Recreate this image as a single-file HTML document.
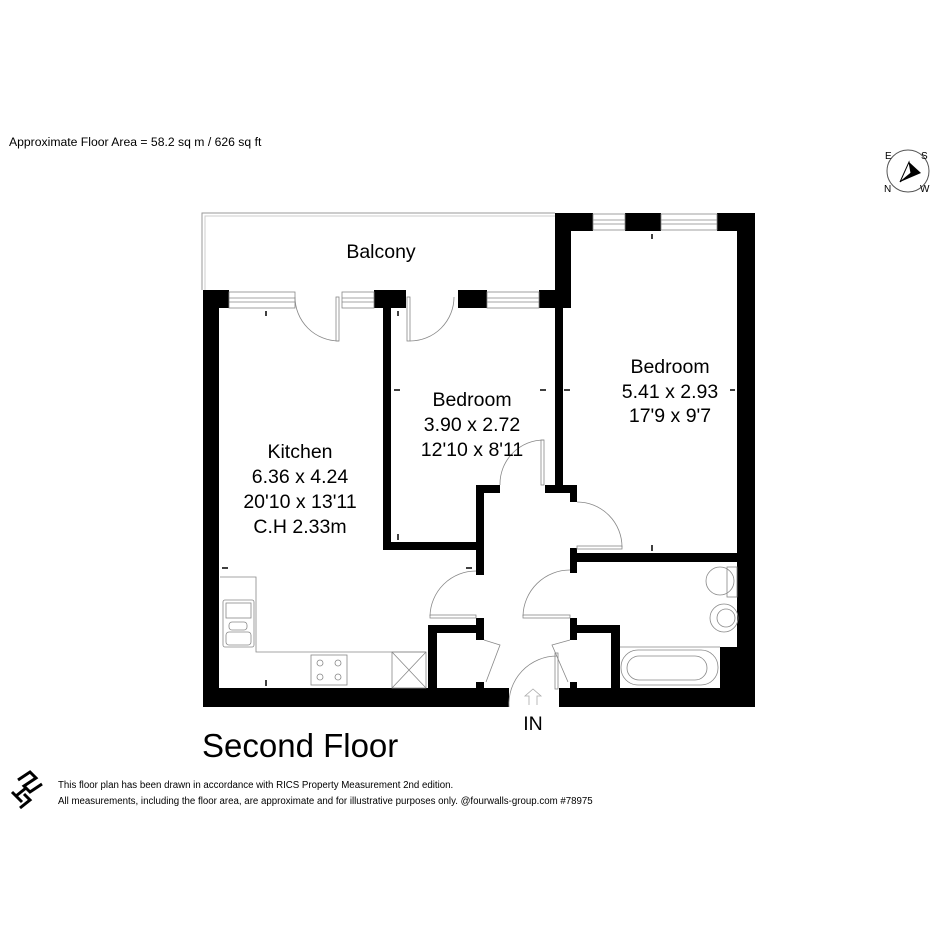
<!DOCTYPE html>
<html><head><meta charset="utf-8"><style>
html,body{margin:0;padding:0;background:#fff;}
svg{display:block;font-family:"Liberation Sans",Arial,sans-serif;}
</style></head><body>
<svg width="945" height="945" viewBox="0 0 945 945" xmlns="http://www.w3.org/2000/svg">
<rect width="945" height="945" fill="#fff"/>
<text x="9" y="146" font-size="12.2">Approximate Floor Area = 58.2 sq m / 626 sq ft</text>
<!-- compass -->
<circle cx="908" cy="171" r="21" fill="none" stroke="#555" stroke-width="1"/>
<text x="885" y="159" font-size="10">E</text>
<text x="921" y="159" font-size="10">S</text>
<text x="884" y="192" font-size="10">N</text>
<text x="920" y="192" font-size="10">W</text>
<path d="M900 182 L909 162 L921 173 Z" fill="#000"/>
<path d="M900 182 L909 162 L911 173 Z" fill="#fff" stroke="#000" stroke-width="1"/>
<!-- balcony -->
<path d="M202 290 V213 H555" fill="none" stroke="#999" stroke-width="1"/>
<path d="M205 290 V216 H555" fill="none" stroke="#ccc" stroke-width="1"/>
<g fill="#000">
<rect x="203" y="290" width="16" height="417"/>
<rect x="203" y="290" width="26" height="18"/>
<rect x="203" y="688" width="306" height="19"/>
<rect x="559" y="688" width="196" height="19"/>
<rect x="737" y="213" width="18" height="494"/>
<rect x="720" y="647" width="35" height="60"/>
<rect x="555" y="213" width="38" height="18"/>
<rect x="625" y="213" width="36" height="18"/>
<rect x="717" y="213" width="38" height="18"/>
<rect x="555" y="213" width="16" height="95"/>
<rect x="539" y="290" width="32" height="18"/>
<rect x="458" y="290" width="29" height="18"/>
<rect x="374" y="290" width="32" height="18"/>
<rect x="383" y="308" width="8" height="242"/>
<rect x="383" y="542" width="101" height="8"/>
<rect x="476" y="485" width="8" height="90"/>
<rect x="476" y="485" width="24" height="8"/>
<rect x="555" y="308" width="8" height="185"/>
<rect x="545" y="485" width="32" height="8"/>
<rect x="570" y="485" width="7" height="17"/>
<rect x="570" y="548" width="7" height="25"/>
<rect x="570" y="553" width="167" height="9"/>
<rect x="476" y="618" width="8" height="22"/>
<rect x="428" y="625" width="56" height="8"/>
<rect x="428" y="625" width="9" height="63"/>
<rect x="476" y="682" width="8" height="6"/>
<rect x="570" y="618" width="7" height="22"/>
<rect x="570" y="625" width="50" height="8"/>
<rect x="611" y="625" width="9" height="63"/>
<rect x="570" y="682" width="7" height="6"/>
</g>
<g fill="none" stroke="#888" stroke-width="0.8">
<rect x="229" y="292" width="66" height="16"/><line x1="229" y1="298" x2="295" y2="298"/><line x1="229" y1="302" x2="295" y2="302"/>
<rect x="342" y="292" width="32" height="16"/><line x1="342" y1="298" x2="374" y2="298"/><line x1="342" y1="302" x2="374" y2="302"/>
<rect x="487" y="292" width="52" height="16"/><line x1="487" y1="298" x2="539" y2="298"/><line x1="487" y1="302" x2="539" y2="302"/>
<rect x="593" y="214" width="32" height="16"/><line x1="593" y1="220" x2="625" y2="220"/><line x1="593" y1="224" x2="625" y2="224"/>
<rect x="661" y="214" width="56" height="16"/><line x1="661" y1="220" x2="717" y2="220"/><line x1="661" y1="224" x2="717" y2="224"/>
<rect x="336" y="297" width="3" height="44"/><path d="M295 297 A44 44 0 0 0 339 341"/>
<rect x="407" y="297" width="3" height="44"/><path d="M454 297 A44 44 0 0 1 410 341"/>
<rect x="541" y="440" width="3" height="45"/><path d="M500 485 A44 44 0 0 1 544 440"/>
<rect x="577" y="546" width="45" height="3"/><path d="M577 502 A45 45 0 0 1 622 547"/>
<rect x="430" y="615" width="46" height="3"/><path d="M476 571 A46 46 0 0 0 430 616"/>
<rect x="523" y="615" width="47" height="3"/><path d="M570 570 A47 47 0 0 0 523 616"/>
<rect x="555" y="653" width="3" height="36"/><path d="M509 707 A48 48 0 0 1 557 656"/>
<path d="M484 640 L500 645 L486 682"/>
<path d="M570 640 L552 645 L568 682"/>
<path d="M220 577 H256 V652 H426"/>
<rect x="223" y="600" width="31" height="47" rx="2"/>
<rect x="226" y="603" width="25" height="15"/>
<rect x="229" y="622" width="18" height="8" rx="3"/>
<rect x="226" y="632" width="25" height="13" rx="3"/>
<rect x="311" y="655" width="36" height="30"/>
<circle cx="320" cy="663" r="3"/><circle cx="338" cy="663" r="3"/><circle cx="320" cy="677" r="3"/><circle cx="338" cy="677" r="3"/>
<rect x="392" y="652" width="34" height="36"/><path d="M392 652 L426 688 M426 652 L392 688"/>
<path d="M620 647 H720"/>
<rect x="621" y="650" width="97" height="35" rx="17"/>
<rect x="627" y="656" width="80" height="24" rx="12"/>
<rect x="727" y="567" width="10" height="30"/>
<ellipse cx="720" cy="581" rx="14" ry="14"/>
<circle cx="724" cy="618" r="14"/><circle cx="726" cy="618" r="9"/>
<path d="M529 705 V696 H525 L533 689 L541 696 H537 V705" stroke="#aaa"/>
</g>
<g stroke="#000" stroke-width="1.5">
<line x1="266" y1="311" x2="266" y2="316"/><line x1="398" y1="311" x2="398" y2="316"/>
<line x1="394" y1="390" x2="400" y2="390"/><line x1="540" y1="390" x2="546" y2="390"/><line x1="564" y1="390" x2="570" y2="390"/>
<line x1="652" y1="234" x2="652" y2="239"/><line x1="730" y1="390" x2="735" y2="390"/>
<line x1="398" y1="534" x2="398" y2="540"/><line x1="652" y1="545" x2="652" y2="551"/>
<line x1="222" y1="568" x2="228" y2="568"/><line x1="466" y1="568" x2="472" y2="568"/>
<line x1="266" y1="680" x2="266" y2="686"/>
</g>
<g font-size="19.5" text-anchor="middle" fill="#000">
<text x="381" y="258">Balcony</text>
<text x="300" y="458">Kitchen</text>
<text x="300" y="483">6.36 x 4.24</text>
<text x="300" y="508">20'10 x 13'11</text>
<text x="300" y="533">C.H 2.33m</text>
<text x="472" y="406">Bedroom</text>
<text x="472" y="431">3.90 x 2.72</text>
<text x="472" y="456">12'10 x 8'11</text>
<text x="670" y="373">Bedroom</text>
<text x="670" y="398">5.41 x 2.93</text>
<text x="670" y="422">17'9 x 9'7</text>
<text x="533" y="730">IN</text>
</g>
<text x="202" y="757" font-size="33">Second Floor</text>
<g fill="none" stroke="#000" stroke-width="3">
<path d="M18 780 L30 772 L36 778 L24 786 L30 792 L42 784"/>
<path d="M12 792 L22 802 M16 796 L26 788 M20 808 L30 800 L24 794"/>
</g>
<text x="58" y="788" font-size="9.7">This floor plan has been drawn in accordance with RICS Property Measurement 2nd edition.</text>
<text x="58" y="804" font-size="9.7">All measurements, including the floor area, are approximate and for illustrative purposes only. @fourwalls-group.com #78975</text>
</svg>
</body></html>
